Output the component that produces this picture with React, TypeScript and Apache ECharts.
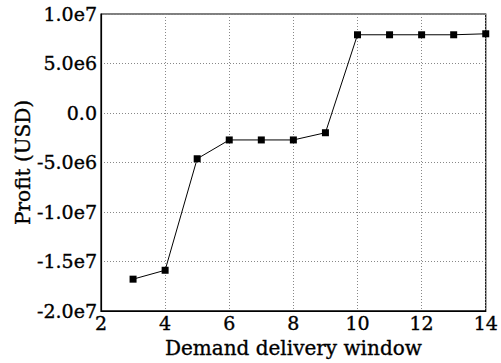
import React, { useEffect, useRef } from "react";
import * as echarts from "echarts";

// Demand delivery window (days) and resulting profit (USD)
const windows = [3, 4, 5, 6, 7, 8, 9, 10, 11, 12, 13, 14];
const profit = [
  -16.8e6, -15.9e6, -4.63e6, -2.73e6, -2.73e6, -2.73e6, -2.0e6, 7.9e6, 7.9e6,
  7.9e6, 7.9e6, 8.0e6,
];

const FONT = "'DejaVu Serif', 'Liberation Serif', serif";

// slightly heavier glyphs for all chart text
const TEXT = {
  color: "#000",
  fontFamily: FONT,
  textBorderColor: "#000",
  textBorderWidth: 0.35,
};

function fmtSci(v: number): string {
  if (v === 0) return "0.0";
  return v.toExponential(1).replace("+", "");
}

export default function App() {
  const ref = useRef<HTMLDivElement>(null);

  useEffect(() => {
    if (!ref.current) return;
    const chart = echarts.init(ref.current, undefined, { renderer: "svg" });
    chart.setOption({
      animation: false,
      backgroundColor: "#ffffff",
      grid: {
        left: 101,
        right: 11,
        top: 14,
        bottom: 48,
        show: true,
        borderColor: "#000",
        borderWidth: 1.2,
        backgroundColor: "transparent",
      },
      xAxis: {
        type: "value",
        min: 2,
        max: 14,
        interval: 2,
        name: "Demand delivery window",
        nameLocation: "middle",
        nameGap: 27,
        nameMoveOverlap: false,
        nameTextStyle: { ...TEXT, fontSize: 20 },
        axisLine: { show: true, onZero: false, lineStyle: { color: "#000", width: 1.2 } },
        axisTick: { show: false },
        axisLabel: { ...TEXT, fontSize: 19, margin: 3 },
        splitLine: {
          show: true,
          lineStyle: { color: "#888", type: [1, 2], width: 1 },
        },
      },
      yAxis: {
        type: "value",
        min: -2e7,
        max: 1e7,
        interval: 5e6,
        name: "Profit (USD)",
        nameLocation: "middle",
        nameGap: 68,
        nameMoveOverlap: false,
        nameTextStyle: { ...TEXT, fontSize: 20 },
        axisLine: { show: true, lineStyle: { color: "#000", width: 1.2 } },
        axisTick: { show: false },
        axisLabel: {
          ...TEXT,
          fontSize: 19,
          margin: 4,
          formatter: fmtSci,
        },
        splitLine: {
          show: true,
          lineStyle: { color: "#888", type: [1, 2], width: 1 },
        },
      },
      series: [
        {
          type: "line",
          data: windows.map((w, i) => [w, profit[i]]),
          symbol: "rect",
          symbolSize: 7,
          itemStyle: { color: "#000" },
          lineStyle: { color: "#000", width: 1 },
        },
      ],
    });
    return () => chart.dispose();
  }, []);

  return <div ref={ref} style={{ width: 501, height: 363, position: "absolute", left: 0, top: 0 }} />;
}
